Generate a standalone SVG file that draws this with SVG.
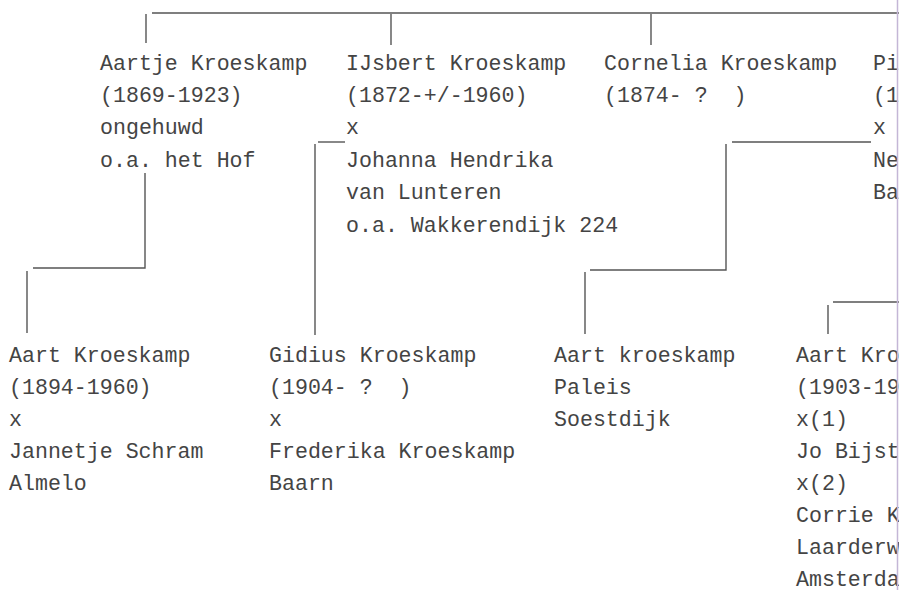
<svg xmlns="http://www.w3.org/2000/svg" width="899" height="590" viewBox="0 0 899 590">
<style>
text{font-family:"Liberation Mono","DejaVu Sans Mono",monospace;font-size:21.6px;fill:#444444;white-space:pre;}
.ln{stroke:#555;stroke-width:1.4;fill:none;}
</style>
<rect x="0" y="0" width="899" height="590" fill="#ffffff"/>
<g id="connectors" class="ln">
<path d="M152 13H899"/>
<path d="M146 14V43"/>
<path d="M391 14V45"/>
<path d="M651 14V45"/>
<path d="M145 173V268H33"/>
<path d="M27 271V333"/>
<path d="M345 142H318"/>
<path d="M315 144V335"/>
<path d="M871 142H732"/>
<path d="M726 144V270H590"/>
<path d="M585 272V334"/>
<path d="M899 302H833"/>
<path d="M828 305V334"/>
</g>
<g id="aartje">
<text x="100" y="69.5">Aartje Kroeskamp</text>
<text x="100" y="101.9">(1869-1923)</text>
<text x="100" y="134.3">ongehuwd</text>
<text x="100" y="166.7">o.a. het Hof</text>
</g>
<g id="ijsbert">
<text x="346" y="69.5">IJsbert Kroeskamp</text>
<text x="346" y="101.9">(1872-+/-1960)</text>
<text x="346" y="134.3">x</text>
<text x="346" y="166.7">Johanna Hendrika</text>
<text x="346" y="199.1">van Lunteren</text>
<text x="346" y="231.5">o.a. Wakkerendijk 224</text>
</g>
<g id="cornelia">
<text x="604" y="69.5">Cornelia Kroeskamp</text>
<text x="604" y="101.9" xml:space="preserve">(1874- ?  )</text>
</g>
<g id="pi">
<text x="873" y="69.5">Pi</text>
<text x="873" y="101.9">(1</text>
<text x="873" y="134.3">x</text>
<text x="873" y="166.7">Ne</text>
<text x="873" y="199.1">Ba</text>
</g>
<g id="aart1">
<text x="9" y="362">Aart Kroeskamp</text>
<text x="9" y="394">(1894-1960)</text>
<text x="9" y="426">x</text>
<text x="9" y="458">Jannetje Schram</text>
<text x="9" y="490">Almelo</text>
</g>
<g id="gidius">
<text x="269" y="362">Gidius Kroeskamp</text>
<text x="269" y="394" xml:space="preserve">(1904- ?  )</text>
<text x="269" y="426">x</text>
<text x="269" y="458">Frederika Kroeskamp</text>
<text x="269" y="490">Baarn</text>
</g>
<g id="aart2">
<text x="554" y="362">Aart kroeskamp</text>
<text x="554" y="394">Paleis</text>
<text x="554" y="426">Soestdijk</text>
</g>
<g id="aart3">
<text x="796" y="362">Aart Kro</text>
<text x="796" y="394">(1903-19</text>
<text x="796" y="426">x(1)</text>
<text x="796" y="458">Jo Bijst</text>
<text x="796" y="490">x(2)</text>
<text x="796" y="522">Corrie K</text>
<text x="796" y="554">Laarderw</text>
<text x="796" y="586">Amsterda</text>
</g>
<path d="M897.5 0V590" stroke="#c4b6d6" stroke-width="1.5"/>
</svg>
